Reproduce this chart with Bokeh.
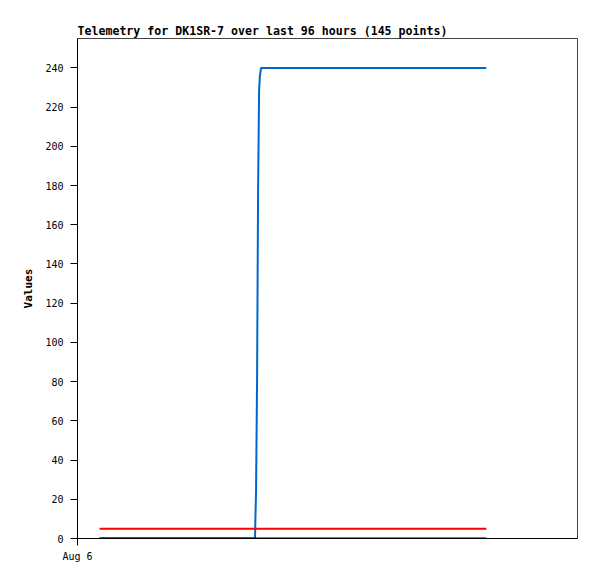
from datetime import datetime
from bokeh.plotting import figure
from bokeh.models import FixedTicker, Range1d
from bokeh.embed import file_html
from bokeh.resources import INLINE

# ---- data ----
title_text = "Telemetry for DK1SR-7 over last 96 hours (145 points)"
y_label = "Values"

blue_times = ["2024-08-06 05:28", "2024-08-07 20:04", "2024-08-07 20:08", "2024-08-07 20:19",
              "2024-08-07 20:34", "2024-08-07 20:49", "2024-08-07 21:04", "2024-08-07 21:16",
              "2024-08-07 21:34", "2024-08-10 05:28"]
blue_values = [0, 0, 8, 24, 80, 176, 228, 236, 240, 240]

red_times = ["2024-08-06 05:28", "2024-08-10 05:28"]
red_values = [5, 5]

black_times = ["2024-08-06 05:28", "2024-08-10 05:28"]
black_values = [0, 0]

y_ticks = [0, 20, 40, 60, 80, 100, 120, 140, 160, 180, 200, 220, 240]
x_tick_times = ["2024-08-06 00:00"]
x_tick_labels = ["Aug 6"]

x_start = "2024-08-06 00:00"
x_end = "2024-08-11 04:06"
y_min, y_max = 0, 255


def to_ms(s):
    return datetime.strptime(s, "%Y-%m-%d %H:%M").timestamp() * 1000.0


FONT = "DejaVu Sans Mono"

p = figure(
    output_backend="svg", toolbar_location=None,
    x_axis_type="datetime",
    frame_width=500, frame_height=500,
    min_border_left=77, min_border_top=38, min_border_right=12, min_border_bottom=33,
    x_range=Range1d(to_ms(x_start), to_ms(x_end)),
    y_range=Range1d(y_min, y_max),
    title=title_text,
)

p.line([to_ms(t) for t in blue_times], blue_values, line_color="#0066cc", line_width=2)
p.line([to_ms(t) for t in red_times], red_values, line_color="#ff0000", line_width=2)
p.line([to_ms(t) for t in black_times], black_values, line_color="#000000", line_width=2)

p.title.text_font = FONT
p.title.text_font_size = "11.6px"
p.title.text_font_style = "bold"
p.title.text_color = "#000000"
p.title.align = "left"
p.title.offset = 0
p.title.standoff = 2

p.xgrid.visible = False
p.ygrid.visible = False
p.outline_line_color = "#444444"
p.outline_line_width = 1
p.background_fill_color = "white"
p.border_fill_color = "white"

ya = p.yaxis[0]
ya.ticker = FixedTicker(ticks=y_ticks)
ya.minor_tick_line_color = None
ya.major_tick_out = 7
ya.major_tick_in = 0
ya.major_label_standoff = 7
ya.major_label_text_font = FONT
ya.major_label_text_font_size = "10px"
ya.major_label_text_color = "#000000"
ya.axis_label = y_label
ya.axis_label_text_font = FONT
ya.axis_label_text_font_size = "11px"
ya.axis_label_text_font_style = "bold"
ya.axis_label_text_color = "#000000"
ya.axis_label_standoff = 7
ya.axis_line_color = "#000000"
ya.major_tick_line_color = "#000000"

xa = p.xaxis[0]
x_tick_ms = [to_ms(t) for t in x_tick_times]
xa.ticker = FixedTicker(ticks=x_tick_ms)
xa.major_label_overrides = {x_tick_ms[i]: x_tick_labels[i] for i in range(len(x_tick_ms))}
xa.minor_tick_line_color = None
xa.major_tick_out = 7
xa.major_tick_in = 0
xa.major_label_standoff = 5
xa.major_label_text_font = FONT
xa.major_label_text_font_size = "10px"
xa.major_label_text_color = "#000000"
xa.axis_line_color = "#000000"
xa.major_tick_line_color = "#000000"

open("out.html", "w").write(file_html(p, INLINE))
